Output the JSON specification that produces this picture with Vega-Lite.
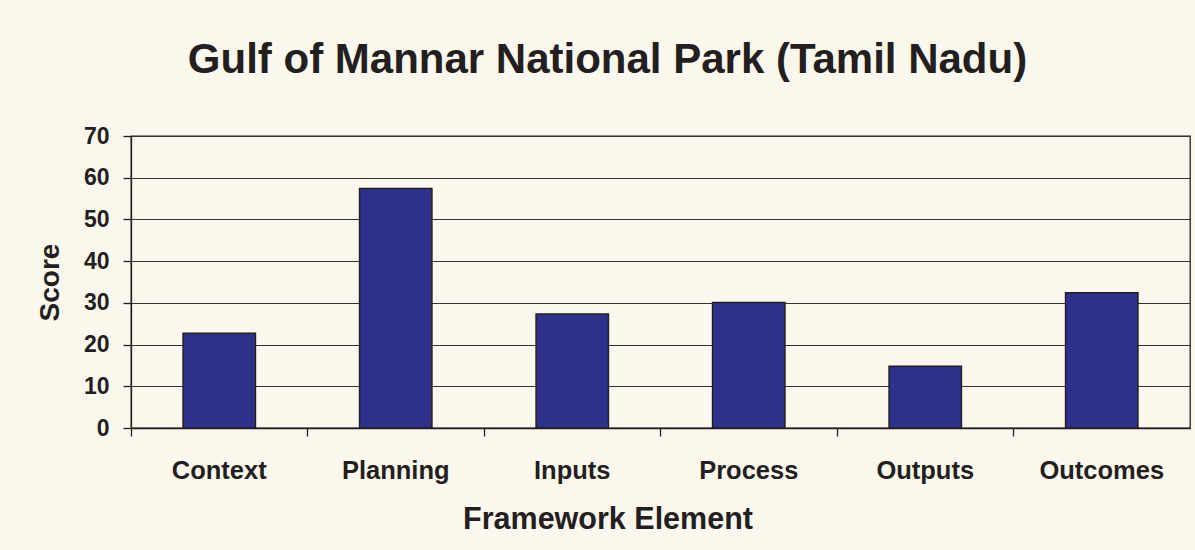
{
  "$schema": "https://vega.github.io/schema/vega-lite/v6.json",
  "autosize": {"type": "none"},
  "width": 1059,
  "height": 292,
  "padding": {"left": 131, "top": 136, "right": 5, "bottom": 122},
  "background": "#FBF7ED",
  "title": {
    "text": "Gulf of Mannar National Park (Tamil Nadu)",
    "font": "Liberation Sans",
    "fontSize": 42,
    "fontWeight": "bold",
    "color": "#231F20",
    "anchor": "middle",
    "dx": -53,
    "baseline": "alphabetic",
    "offset": 10
  },
  "config": {
    "view": {"stroke": "#231F20", "strokeWidth": 1.3},
    "axis": {
      "labelFont": "Liberation Sans",
      "titleFont": "Liberation Sans",
      "labelColor": "#231F20",
      "titleColor": "#231F20",
      "domainColor": "#231F20",
      "tickColor": "#231F20",
      "labelFontWeight": "bold",
      "titleFontWeight": "bold"
    }
  },
  "data": {
    "values": [
      {"element": "Context", "score": 22.7},
      {"element": "Planning", "score": 57.4},
      {"element": "Inputs", "score": 27.3},
      {"element": "Process", "score": 30.1},
      {"element": "Outputs", "score": 14.8},
      {"element": "Outcomes", "score": 32.4}
    ]
  },
  "mark": {
    "type": "bar",
    "color": "#2E318C",
    "stroke": "#231F20",
    "strokeWidth": 1.5,
    "width": {"band": 0.41}
  },
  "encoding": {
    "x": {
      "field": "element",
      "type": "nominal",
      "sort": null,
      "scale": {"paddingInner": 0, "paddingOuter": 0},
      "axis": {
        "title": "Framework Element",
        "titleFontSize": 30.5,
        "titleX": 476.5,
        "titleY": 100,
        "titleAlign": "center",
        "titleBaseline": "alphabetic",
        "labelAngle": 0,
        "labelFontSize": 25.5,
        "labelBaseline": "alphabetic",
        "labelPadding": 42,
        "tickSize": 8,
        "bandPosition": 0,
        "domainWidth": 1.3,
        "tickWidth": 1.3,
        "grid": false
      }
    },
    "y": {
      "field": "score",
      "type": "quantitative",
      "scale": {"domain": [0, 70], "nice": false},
      "axis": {
        "title": "Score",
        "titleFontSize": 28,
        "titleAngle": -90,
        "titleX": -81,
        "titleY": 146,
        "titleAlign": "center",
        "titleBaseline": "middle",
        "values": [0, 10, 20, 30, 40, 50, 60, 70],
        "labelFontSize": 23,
        "labelPadding": 14,
        "labelBaseline": "middle",
        "tickSize": 8,
        "tickWidth": 1.3,
        "domainWidth": 1.3,
        "grid": true,
        "gridColor": "#333333",
        "gridWidth": 1.2
      }
    }
  }
}
